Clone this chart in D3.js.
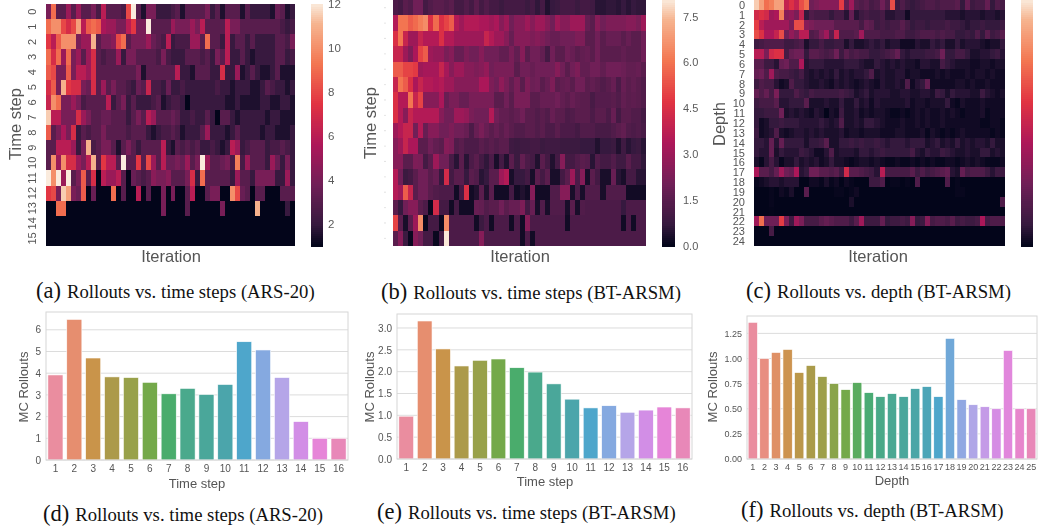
<!DOCTYPE html>
<html>
<head>
<meta charset="utf-8">
<script src="https://cdn.jsdelivr.net/npm/d3@7"></script>
<style>
  body { margin: 0; background: #fff; }
  text { font-family: "Liberation Sans", Arial, sans-serif; fill: #555; }
  .caption text, text.caption { font-family: "Liberation Serif", "Times New Roman", serif; fill: #111; }
  .soft { filter: blur(0.45px); }
  .axis path, .axis line { display: none; }
  rect.cell, rect.bar { shape-rendering: crispEdges; }
</style>
</head>
<body>
<svg id="chart" width="1040" height="529"></svg>
<script>
// seaborn "rocket" stops
var rocketStops = ['#03051a', '#35193e', '#701f57', '#ad1759', '#e13342', '#f37651', '#f6b48f', '#faebdd'];
var rocketPos = [0, 1/12, 3/12, 5/12, 7/12, 9/12, 11/12, 1];
var huslStops = ['#ea8d9f', '#e68e6f', '#c9944a', '#ac9a4a', '#98a14a', '#74a94a', '#4aac6c', '#4aa98c', '#4aa79a',
                 '#4ba5ab', '#4ea6cb', '#85a9e0', '#b5a5e8', '#d28ee6', '#e685d8', '#e888b8'];

// (a) rollouts, time step by iteration
var heatA = [
 [4,9,3,3,5,3,5,3,3,4, 2.5,6,3,3,3,2.5,8,12,3,1.5, 4,4,2,2,2,2.5,3,1.5,3,3, 3,3,4,2,3,1.5,3,3,3,1.5, 3,2,2,2,2,1.5,3.5,3,1.5,2],
 [9,10,10,8,7,8,10.5,6,8.5,9, 8.5,5.5,5,5,4,4,6,7.5,4,4, 12,3,3,3,3,5,4,4,4,5, 4,6,3,3,3,3,6,4,4,3, 3,3,3,3,3,3,3,2.5,2,2.5],
 [7.5,6,8.5,10,10,10,4,5,5,11, 3,4,4,4.5,8,9,3,4,4,4, 5,3.5,3,2.5,6,2,2.5,2.5,2.5,5, 5,3,9,3,3,2,6,2,3,3, 2,3,2,2,2,2,3,3,2.5,4],
 [9,7,9,5,9,4,5,3,5,7, 3,2.5,3,3,5,2,4,4,3,3, 3,3,2.5,4,2.5,2,2,2,3,3, 3,2.5,3,2,4,3,6,2,2,3, 2,1.5,2,2,2,2,3,3,2,2.5],
 [8.5,8,4,4,8.5,4,6,6,5,7, 3,3,3,3,3,3,3,3,4,1.5, 3,3,3,3,3,3,6,2,2,1.5, 3,3,3,2,2,7,2,2,5,1.5, 2,3,2,1.5,1.5,2,3,1.5,1.5,1.5],
 [7,8.5,4,11,7.5,7,7,4,3.5,7, 3,5,3,4,3,3,2.5,2,3.5,3, 6.5,2.5,2.5,2,3.5,2,2,2.5,2,2, 2,2,2,2,2.5,2,2,1.5,2,2, 2,1.5,1.5,2,3,2.5,2,2,1.5,2],
 [6.5,10,9,4,4,5,4,2.5,3,3, 3,3,6,2,3,4,2,3,2,2, 2,2.5,3,1.5,2,2.5,2.5,2,1,2, 2,2,2,2,2,2,1.5,1.5,2,1.5, 1.5,1.5,1.5,2,2,1.5,1.5,2,2,1.5],
 [11.5,6,6,4,4,4,7,5,4,3, 3,3.5,3.5,3,3,3,2,3,4,3, 6,5,3,3,3,3.5,3,2,2,2.5, 2,2,3,2,1,3,3,2,1.5,2, 2,2,2,2,1.5,2,2,1.5,1.5,1.5],
 [8.5,3,4,5.5,4,7,2,3,2.5,3, 3,4,3,3,3,3,2.5,3,3,3, 2,1.5,2,2.5,2.5,3,2.5,1.5,2,2, 2,3,5,2,2,2,1.5,2,3,2, 2,2,2,1.5,2,2,1.5,1.5,1.5,2],
 [3,3,6,6,6,5,2,4,11,2.5, 3,4,4,3,1.5,3,4,3,2,3, 3,3,3,6,2,1.5,3,2.5,3,2.5, 3,2,2,2.5,2,1.5,2,6,5,2, 2.5,3,3,3,2,2.5,2.5,3,2.5,2],
 [3,10,5,10,7,7,5,4,6,11, 3,7.5,6,6,3,12,3,3,7.5,3, 8,5,3,6,3.5,3.5,4,3.5,5,3, 4,12,5,3,3,3.5,4,2.5,9.5,2.5, 5,3,3,3,2,5,3.5,2,4,2],
 [12,10,12,5,12,3,4,8.5,3,7, 1,6,5,5,6,3,1,3.5,3,2.5, 3,4.5,4,4,4.5,3,3,3,4,7, 2,9,3,3,3,3,3,2,5,3, 3,2,4,4,4,4,2,2,5,2],
 [7.5,8,4,11.5,10.5,4,3.5,8.5,1,3.5, 1,1,1,9,1,3,1,1,6,1, 3,1,1,4,1,4,1,1,3,6, 1,1,3,4,4,1,1,10,8,3.5, 3,1,3,3,1,1,1,3,3,3],
 [1,1,9,9,1,1,1,1,1,1, 1,1,1,1,1,1,1,1,1,1, 1,1,1,4,1,1,1,1,3,1, 1,1,1,1,1,4,1,1,1,1, 1,1,11,1,1,1,1,1,2,1],
 [1,1,1,1,1,1,1,1,1,1, 1,1,1,1,1,1,1,1,1,1, 1,1,1,1,1,1,1,1,1,1, 1,1,1,1,1,1,1,1,1,1, 1,1,1,1,1,1,1,1,1,1],
 [1,1,1,1,1,1,1,1,1,1, 1,1,1,1,1,1,1,1,1,1, 1,1,1,1,1,1,1,1,1,1, 1,1,1,1,1,1,1,1,1,1, 1,1,1,1,1,1,1,1,1,1]
];

// (b) rollouts, time step by iteration
var heatB = [
 [1.2,1,1.5,1.3,2,2,1,1.3,1.5,1.5, 1.3,1.5,1,1,1.3,1,1.5,1,1.3,1, 1,0.8,1,1,1,1,0.8,1,0.6,1, 0.4,0.7,0.8,1,1,1,0.8,1,1,0.9, 0.5,0.5,0.6,0.6,0.5,0.7,0.5,0.7,0.6,0.6],
 [3.5,6,6,5.5,5.8,6.2,6.5,4.5,5.8,4.5, 5,5.5,3.5,3,3.5,3.5,3.5,3.3,3.3,3, 3.3,2.5,3,2,2.5,2.5,3,2.5,3,3, 2.5,2,3,2.5,2.5,3,3,3,1.8,1.5, 2.5,2,2.3,2.3,2.3,2.3,2.5,2.5,2.2,3],
 [4.5,6,4,3,3,4,3.5,3.5,3.5,4.5, 3.5,3.5,3,3,3,3,3,3,4,3.5, 3,3,2.5,1.8,2.5,2.5,2.5,2.3,2.5,2.3, 2,1.8,1.8,2,2,2,2.3,2.3,1.5,1.5, 2,1.5,1.8,1.8,1.8,1.5,1.8,1.5,1.5,2],
 [4,4,3,2.3,3.3,5,5.5,3,2.8,2.8, 2.2,2.5,1.8,1.8,2.3,2,2,2.5,2,2, 2,1.7,1.7,2.2,1.7,2.5,1.5,2,2,1.7, 1,2,1.5,1.5,2,1.8,1.5,1.7,1.8,1.5, 2,1.5,1.5,1.5,1.5,1.7,1.5,1.5,1.5,2],
 [5.5,5.5,5,5,4.8,3,3.2,3.2,3.2,4, 3.2,2.5,3,3,2.5,2.5,2.3,2.5,2.8,2, 2.2,2.2,2.2,2.2,1.5,2,2,1.8,2,2, 2,2,2.5,2,1.5,2,2.3,1.7,1.7,2, 2,1.7,2,2,2,1.9,1.7,1.7,1.8,1.5],
 [4,6,5.5,4.5,3.3,4,3.5,3.5,3.3,3.5, 3,3,2.5,2.5,2.5,2.5,2.5,3.3,3.3,2.3, 2,2.7,2.2,1.7,2.2,1.5,2.3,1.9,2,1.5, 1.8,2.3,1.5,1.7,1.8,1.5,2,2,1.5,1.7, 1.5,1.3,1.5,1.8,1.2,1.8,1.5,1.7,1.5,1.3],
 [4.5,3.5,3.5,6,4,5,2.5,2.5,2.5,3.3, 1.8,2.2,2.2,1.8,1.8,2.2,2.2,2.2,2.2,2.2, 1.5,1.5,2,1.5,2.2,2.2,2.2,1.5,1.5,1.8, 1.8,1.8,2,1.7,1.5,1.8,1.6,1.5,1.5,1.1, 1.4,1.4,1.4,1.5,1.3,1.7,1.5,1.6,1.5,1.3],
 [4.5,3.5,2.5,4,3.5,3.5,3.5,3.5,3.5,2.5, 2,2,3,3,2.8,2.2,2,2,2,3.5, 2,1.7,1.7,1.5,1.7,2,1.5,1.5,1.3,1.5, 1.3,1.8,1.5,1.5,1.2,1.3,1.5,1.5,1.5,1.2, 1.5,1.5,1.2,1.8,1,1.5,1.5,1.3,1.3,1],
 [3,3.5,4,4,2,3.5,1.8,2.5,2.5,2, 2,2.3,2,2,1.8,1.2,1.8,2.2,1.8,1.5, 1.8,1.5,1.8,1.5,1.3,1.3,1.5,1.5,1.3,1.5, 1.2,1.2,1.5,1.2,1.2,1.2,1,1.3,1.3,1.3, 1.1,1.1,1.1,1.3,1.5,1.7,1.3,1.2,1.3,1.1],
 [2.5,3,4,3.3,3.3,1.5,1.5,2,1.7,1.5, 2.5,2.3,1.3,1.5,1.2,1.2,1.2,1.5,1.3,1.5, 1.3,1.5,1.5,0.9,0.8,0.9,0.9,1,1,0.8, 0.9,0.9,0.9,0.8,0.8,0.8,0.8,0.7,0.7,0.7, 0.4,0.7,0.7,0.8,0.4,0.9,0.5,0.7,0.8,0.5],
 [2.5,2.5,1.5,1.5,2.3,2.2,1,1.5,3,2, 2,1.1,0.5,1.5,0.5,1.2,1.5,1,0.6,1.2, 0.3,1,0.4,1.5,0.8,1.7,1.2,1,0.4,1.5, 1,0.4,1,2.5,1,1,1.3,1.5,1.4,0.5, 1.3,1,1,1.3,0.9,0.9,1.5,1,1,0.6],
 [3.5,2,0.8,1,1.5,2,2,1.5,1.8,0.7, 4.3,1,1.5,1.5,0.7,1.5,1.3,0.5,0.7,1.5, 1.5,3,3.5,0.3,0.7,0.7,1,0.3,1.5,1, 1.5,0.3,0.3,1,1.5,3,1.2,2.5,0.3,1.5, 1,0.3,0.3,1.8,0.5,0.3,1,1,0.5,0.5],
 [3.5,3,5.5,4,1.5,2,2,1.5,1.3,1.2, 1.2,1.2,0.2,1,4.5,0.2,0.4,1.5,0.4,1.5, 0.2,0.2,0.2,1,0.2,0.4,0.2,2.5,0.2,0.2, 0.2,1.3,1.3,2.5,2.5,0.3,1.2,0.3,1.3,1.3, 1.3,0.3,1.3,1.3,1.3,1.3,0.2,0.2,0.2,0.2],
 [1.5,0.7,2,2.5,2.5,1.5,1.2,0.1,4.3,1, 1,0.2,1,0.2,0.2,0.2,1.8,1.7,1.3,1.5, 1.5,2,1.5,1.8,1.8,2.3,1,1.8,0.3,1.3, 0.3,1.3,1.3,1.3,0.3,1.5,0.3,1.3,1.2,1.2, 1.2,1.2,1.2,1.2,1.2,0.7,1.2,1.2,1.2,1.2],
 [5,1.5,0.3,1.5,3,6.5,0.1,1,1,0.1, 6.5,1.2,1.2,1.2,1.2,1.2,0.2,0.8,1.2,0.2, 1.2,1.2,1.2,0.2,1.2,0.2,2.5,1.2,1.2,1.2, 1.2,1.2,1.2,1.2,0.2,1.2,1.2,1.2,1.2,1.2, 1.2,1.2,1.2,1.2,1.2,0.2,1.2,0.2,1.2,1.2],
 [1.5,2.5,0.8,0.1,2.5,2,1,1,0.1,1, 8,1.2,1.2,1.2,1.2,1.2,1.2,2.5,1.2,1.2, 1.2,1.2,1.2,1.2,1.2,0.2,1.2,0.2,1.2,1.2, 1.2,1.2,1.2,1.2,1.2,1.2,1.2,1.2,1.2,1.2, 1.2,1.2,1.2,1.2,1.2,1.2,1.2,1.2,1.2,1.2]
];

// (c) rollouts, depth by iteration (colour bar has no labels)
var heatC = [
 [3.4,3.2,2.9,3,3.2,3.2,2.3,2.5,2.3,2.7, 2.9,1.6,1.7,1.8,1.8,1.8,1.8,2.6,1.5,2, 1.4,1.3,1.4,1.2,1.3,1.6,1.3,2.7,1.1,1.3, 1.1,1,1.1,1.2,1.3,1.3,1.2,1.3,1.3,1.3, 1.4,1,1.5,1.1,1.2,1.2,1.5,1,1.3,1.2],
 [2.4,2.5,2.4,2,2.1,3,1.8,1.9,1.7,2.3, 1,1.3,1.2,1.2,1.2,1,1.2,1.2,0.9,1.5, 0.9,1.1,1.2,1.1,1.1,1.2,0.9,0.9,1,1, 0.7,1,1,1,1,1,1,1,0.9,0.9, 0.9,0.8,0.9,0.9,0.9,0.8,0.9,0.9,0.8,0.9],
 [2.6,2.2,2,2,2,2,2,1.7,2.7,2.7, 1.8,1.7,1.6,1.6,1.6,1.6,1.4,1.4,1.4,1.4, 1.4,1.2,1.5,1.4,1.1,1.2,1.1,1.2,1.2,1.4, 1.2,1,1.1,1.1,1,1.1,1.1,1.1,1.2,1.1, 1.1,1,0.9,1,1,1.1,1,1,1,1.1],
 [2.7,2.5,2.1,2.1,2.3,2.7,1.6,1.9,1.7,2.2, 2.2,1.3,1.4,1.7,2,1.4,2.3,1.3,1.3,1.3, 1.4,2,1.3,1.3,1.3,1.2,1.2,1.2,1.3,1.3, 1.1,1.1,1.2,1.3,1.3,1.3,1.2,1.3,1.2,1.2, 1,1,1.1,1,1.3,1,1.4,1.1,1.2,1.4],
 [1.1,1.2,1.3,1.3,1.3,1.3,1.1,1.1,1.2,1.3, 0.8,1,1,1.2,1,1,1.1,1.1,0.8,1, 0.8,0.8,0.9,1,0.9,1,0.8,0.9,0.9,0.7, 0.7,0.7,0.9,0.8,0.8,1,0.9,1,0.8,0.8, 1,0.8,0.9,0.9,0.9,0.8,0.7,0.8,0.8,1],
 [2.2,2.2,1.7,2.4,2.5,2.5,1.2,1.5,1.6,1.6, 1,1.4,1.4,1.3,1.2,1.3,1.6,1.1,1.4,1.2, 1.3,1.2,1.2,1,1,1.1,1.2,1.3,1.5,1, 0.9,1,1,1,1.1,1.1,1.2,1.6,1,1, 1.2,1.2,1,0.8,0.8,0.9,0.9,1,1.1,0.9],
 [1.4,1.4,1.1,1.1,0.9,1.5,1.6,1.3,1.3,2.1, 0.9,1,1,1,0.9,0.9,0.9,0.9,1,1, 1,0.9,0.8,0.8,1,0.9,0.8,0.9,0.8,0.9, 0.8,0.8,0.7,0.9,0.9,0.8,0.8,1.2,1,0.9, 0.8,0.8,0.8,0.7,0.7,0.8,0.8,0.7,0.8,0.8],
 [1.5,1.6,1.3,2,1.3,1.2,1.2,1.1,1,1.2, 0.9,0.8,0.9,0.8,0.9,0.8,1,0.8,0.9,0.8, 0.9,0.9,1,1.3,0.8,0.9,0.8,0.8,0.9,0.9, 0.7,0.8,0.8,0.7,0.7,0.7,0.8,0.7,0.8,0.7, 0.7,0.7,0.8,0.7,0.8,0.8,0.7,0.8,0.7,0.7],
 [1.1,1.3,1.2,1.2,0.9,0.7,0.8,1.3,1,1, 0.9,0.8,0.8,0.9,0.8,0.7,0.9,0.8,0.9,0.8, 0.7,0.8,0.9,0.8,0.7,0.9,0.8,0.8,0.9,0.8, 1.3,0.7,0.9,1,1.5,0.7,0.7,0.7,0.7,0.7, 0.8,0.8,0.7,0.8,0.7,0.7,0.8,0.7,0.7,0.7],
 [1.5,1.3,1.5,1.2,1.7,1,1,1,1.3,1.1, 1,1.2,1.1,1.1,1.1,1.1,1.1,1.2,1.1,1, 0.8,0.9,1,0.8,0.9,0.9,0.9,0.8,0.8,0.9, 0.9,0.8,0.8,0.9,0.9,0.8,1.1,1,0.8,1, 0.9,0.9,0.9,0.8,0.8,1.1,0.9,0.8,0.7,0.8],
 [1.1,1.2,1.2,1.2,1.4,0.9,0.9,1,1,1, 1.4,0.8,0.8,0.8,0.9,0.8,0.8,1,0.8,0.8, 1,0.8,0.9,0.7,0.9,0.8,0.8,0.8,0.8,0.8, 0.9,0.7,0.8,0.8,0.7,0.8,0.8,0.8,1,0.7, 0.6,0.8,0.7,0.7,0.7,0.8,0.7,0.7,0.7,0.7],
 [1,1,1.1,1.1,1.1,1.6,0.8,0.9,0.8,0.9, 0.8,0.7,0.9,0.8,0.5,0.8,0.7,1.1,0.8,0.8, 0.9,0.7,0.8,0.7,0.8,0.8,0.7,0.6,0.6,0.7, 0.6,0.7,0.8,0.7,0.8,0.7,0.7,0.8,0.7,0.8, 0.7,0.6,0.7,0.7,0.7,0.8,0.6,0.7,0.7,0.7],
 [1,0.7,0.8,1,1,1.1,1,1,1,0.9, 0.9,0.9,0.9,1,0.9,0.8,0.9,1.3,0.8,0.8, 0.9,0.8,1,1,0.9,0.8,0.7,0.7,0.7,0.8, 0.7,0.7,0.8,0.7,0.8,0.7,0.7,0.8,0.7,0.7, 0.7,0.7,0.7,0.7,0.7,0.6,0.6,0.7,0.7,0.6],
 [1.1,0.7,0.8,0.9,1.3,0.8,0.7,0.8,0.9,0.9, 0.8,0.9,0.8,0.9,0.8,0.8,0.8,0.9,0.7,0.8, 0.8,0.7,0.8,0.8,0.8,0.7,0.7,0.7,0.8,0.8, 0.7,0.7,0.7,0.8,0.6,0.8,0.7,0.6,0.7,0.6, 0.7,0.8,0.7,0.7,0.7,0.7,0.7,0.6,0.7,0.6],
 [1,1,0.9,1.5,0.9,1.5,1,1,1,1, 0.8,1,1,1.1,1.4,0.8,0.8,1,1,1.1, 1,1.1,1,1,1.1,1,0.9,1,1,1, 0.9,1,1,1,0.8,0.9,1,0.8,0.9,0.8, 1,0.8,0.9,0.8,0.9,0.9,0.8,1,0.8,0.8],
 [1,0.9,0.9,1.5,0.8,1,0.9,0.9,0.9,1.1, 1,0.9,0.7,0.7,0.9,1.3,0.8,0.9,0.9,0.9, 0.8,1,1,0.9,1,1.1,1,1,1,1, 1,1.2,0.9,0.8,1,0.9,0.9,1.1,1,0.9, 0.8,0.8,0.9,0.8,0.8,1,1,0.8,0.9,0.8],
 [0.8,0.6,0.9,1.2,0.9,0.6,0.8,0.8,1,0.8, 0.9,0.8,0.9,0.7,0.8,1,0.8,0.8,0.7,0.6, 0.7,0.8,0.8,0.7,0.8,0.7,0.6,0.6,0.7,0.6, 0.6,0.7,0.6,0.7,0.6,0.7,0.6,0.6,0.7,0.7, 0.6,0.7,0.8,0.7,0.8,0.7,0.6,0.6,0.6,0.7],
 [2.1,1.4,1.4,1.2,1.5,2,1.6,1.5,2.1,0.9, 1,1.6,1.6,1.4,1.4,1.3,1.4,1.1,2.4,1.4, 1.4,1.3,1.2,1.1,0.9,2.2,1.2,1.2,1.2,1.2, 1.2,1.4,1.1,1.3,1.1,1.2,1.3,1.4,1.5,0.9, 0.8,1.5,1.2,1.3,1.3,1.3,1.1,0.9,1.1,1.1],
 [0.6,0.7,0.8,0.9,0.9,0.8,0.9,0.9,0.9,0.5, 0.5,0.7,0.7,0.6,0.8,0.6,0.7,0.5,0.7,0.6, 0.5,0.5,0.5,1.1,1.1,1.3,0.5,0.6,0.6,0.5, 0.6,0.5,1.3,0.5,0.5,0.5,0.5,0.5,1.3,0.5, 0.6,0.5,0.5,0.5,0.5,0.5,0.5,0.5,0.5,0.5],
 [0.5,0.5,0.5,0.6,0.5,0.7,0.6,0.8,0.5,0.5, 1.4,0.5,0.5,0.5,0.5,0.5,0.6,0.6,0.5,0.6, 0.7,0.5,0.5,0.5,0.5,0.5,0.5,0.5,0.5,0.5, 0.5,0.5,0.5,0.5,0.5,0.5,0.5,0.5,0.5,0.5, 0.6,0.6,0.5,0.5,0.5,0.5,0.5,0.5,0.5,0.5],
 [0.5,0.5,0.5,0.6,0.5,0.5,0.5,0.5,0.5,0.5, 0.5,0.5,0.5,0.5,0.5,0.5,0.5,0.5,0.5,0.8, 0.5,0.5,0.5,0.5,0.5,0.5,0.5,0.5,0.5,0.5, 0.5,0.5,0.5,0.5,0.5,0.5,0.5,0.5,0.5,0.5, 0.5,0.5,0.5,0.5,0.5,0.5,0.5,0.5,0.5,1.3],
 [0.5,0.5,0.5,0.55,0.5,0.5,0.5,0.5,0.5,0.5, 0.5,0.5,0.5,0.5,0.5,0.5,0.5,0.5,0.5,0.5, 0.5,0.5,0.5,0.5,0.5,0.5,0.5,0.5,0.5,0.5, 0.5,0.5,0.5,0.5,0.5,0.5,0.5,0.5,0.5,0.5, 0.5,0.5,0.5,0.5,0.5,0.5,0.5,0.5,0.5,0.5],
 [2,2.9,1.6,1.6,1.6,2.6,1.7,1.1,2,1.7, 1.2,1.2,1.2,1.4,1.5,1.4,1.3,1.3,1.3,1.1, 1.4,2,1.1,1.1,1.1,1.5,1,1.1,1.1,1.2, 1.1,1.8,1,1.1,1.8,1.2,1.3,1.3,1.2,1.4, 1.1,1.2,1.1,1.1,1.2,2.1,1.2,1.3,1.3,1.3],
 [0.5,0.5,0.5,1.2,0.5,0.5,0.5,0.5,0.5,0.5, 0.5,0.5,0.5,0.5,0.5,0.5,0.5,0.5,0.5,0.5, 0.5,0.5,0.5,0.5,0.5,0.5,0.5,0.5,0.5,0.5, 0.5,0.5,0.5,0.5,0.5,0.5,0.5,0.5,0.5,0.5, 0.5,0.5,0.5,0.5,0.5,0.5,0.5,0.5,0.5,0.5],
 [0.5,0.5,0.5,0.5,0.5,0.5,0.5,0.5,0.5,0.5, 0.5,0.5,0.5,0.5,0.5,0.5,0.5,0.5,0.5,0.5, 0.5,0.5,0.5,0.5,0.5,0.5,0.5,0.5,0.5,0.5, 0.5,0.5,0.5,0.5,0.5,0.5,0.5,0.5,0.5,0.5, 0.5,0.5,0.5,0.5,0.5,0.5,0.5,0.5,0.5,0.5]
];

var timeLabels = ['1','2','3','4','5','6','7','8','9','10','11','12','13','14','15','16'];
var depthLabels = ['1','2','3','4','5','6','7','8','9','10','11','12','13','14','15','16','17','18','19','20','21','22','23','24','25'];
var rolloutsD = [3.92,6.48,4.7,3.83,3.8,3.58,3.05,3.3,3.02,3.48,5.45,5.07,3.8,1.77,1.0,1.0];
var rolloutsE = [0.98,3.16,2.52,2.13,2.26,2.29,2.09,1.99,1.72,1.37,1.17,1.22,1.07,1.12,1.19,1.17];
var rolloutsF = [1.36,1.0,1.06,1.09,0.86,0.93,0.82,0.75,0.69,0.76,0.66,0.62,0.65,0.62,0.7,0.72,0.62,1.2,0.59,0.54,0.52,0.5,1.08,0.5,0.5];

var ticksA = [2,4,6,8,10,12];
var ticksB = [0,1.5,3,4.5,6,7.5];
var ticksD = [0,1,2,3,4,5,6];
var ticksE = [0,0.5,1,1.5,2,2.5,3];
var ticksF = [0,0.25,0.5,0.75,1,1.25];

var captions = [
    ['(a)', 'Rollouts vs. time steps (ARS-20)', 36, 298],
    ['(b)', 'Rollouts vs. time steps (BT-ARSM)', 381, 299],
    ['(c)', 'Rollouts vs. depth (BT-ARSM)', 746, 298],
    ['(d)', 'Rollouts vs. time steps (ARS-20)', 43, 521],
    ['(e)', 'Rollouts vs. time steps (BT-ARSM)', 377, 519],
    ['(f)', 'Rollouts vs. depth (BT-ARSM)', 741, 517]
];

var svg = d3.select('#chart');

function rocket(domain, gamma){
    var t = d3.scaleLinear().domain(domain).range([0,1]).clamp(true);
    var c = d3.scaleLinear().domain(rocketPos).range(rocketStops).interpolate(d3.interpolateRgb);
    return function(v){ return c(Math.pow(t(v), gamma)); };
}

function heatmap(opts){
    var g = svg.append('g').attr('class','soft');
    var rows = opts.rows;
    var x = d3.scaleBand().domain(d3.range(rows[0].length)).range(opts.x);
    var y = d3.scaleBand().domain(d3.range(rows.length)).range(opts.y);
    var color = rocket(opts.domain, opts.gamma || 1);
    var barColor = rocket(opts.domain, 1);

    //cells
    g.selectAll('g.row')
        .data(rows)
        .enter()
        .append('g')
        .attr('class','row')
        .attr('transform', function(d,i){ return 'translate(0,' + y(i) + ')'; })
        .selectAll('rect')
        .data(function(d){ return d; })
        .enter()
        .append('rect')
        .attr('class','cell')
        .attr('x', function(d,i){ return x(i); })
        .attr('width', x.bandwidth())
        .attr('height', y.bandwidth())
        .attr('fill', color);

    //colour bar
    var barY = d3.scaleLinear().domain(opts.domain).range([opts.y[1], opts.y[0]]);
    var steps = d3.range(0, 1, 1/120).map(function(t){ return opts.domain[0] + t*(opts.domain[1]-opts.domain[0]); });
    g.selectAll('rect.bar')
        .data(steps)
        .enter()
        .append('rect')
        .attr('class','bar')
        .attr('x', opts.barX[0])
        .attr('width', opts.barX[1]-opts.barX[0])
        .attr('y', function(d){ return barY(d) - (opts.y[1]-opts.y[0])/120; })
        .attr('height', (opts.y[1]-opts.y[0])/120 + 0.5)
        .attr('fill', barColor);
    if(opts.barTicks){
        var axis = g.append('g')
            .attr('class','axis')
            .attr('transform','translate(' + opts.barX[1] + ',0)')
            .call(d3.axisRight(barY).tickValues(opts.barTicks).tickSize(0).tickPadding(opts.barPad).tickFormat(opts.barFormat));
        axis.selectAll('text').style('font-size', opts.barFont + 'px').style('fill','#5a5a5a');
    }

    //row labels
    if(opts.rowLabels){
        g.selectAll('text.rowlabel')
            .data(opts.rowLabels)
            .enter()
            .append('text')
            .attr('class','rowlabel')
            .attr('text-anchor', opts.rotateLabels ? 'middle' : 'end')
            .attr('dominant-baseline', 'central')
            .attr('transform', function(d,i){
                var py = y(i) + y.bandwidth()/2;
                return 'translate(' + opts.rowX + ',' + py + ')' + (opts.rotateLabels ? ' rotate(-90)' : '');
            })
            .style('font-size', opts.rowFont + 'px')
            .text(function(d){ return d; });
    } else {
        g.selectAll('circle.tickdot')
            .data(d3.range(rows.length))
            .enter()
            .append('circle')
            .attr('class','tickdot')
            .attr('cx', opts.rowX)
            .attr('cy', function(d){ return y(d) + y.bandwidth()/2; })
            .attr('r', 0.6)
            .attr('fill','#ccc');
    }

    g.append('text')
        .attr('text-anchor','middle')
        .attr('transform','translate(' + opts.yLabelX + ',' + opts.yLabelY + ') rotate(-90)')
        .style('font-size', opts.labelFont + 'px')
        .text(opts.yLabel);
    g.append('text')
        .attr('text-anchor','middle')
        .attr('x', opts.xLabelX)
        .attr('y', 262)
        .style('font-size', opts.labelFont + 'px')
        .text('Iteration');
}

function barChart(opts){
    var g = svg.append('g').attr('class','soft');
    var x = d3.scaleBand().domain(opts.labels).range(opts.x).paddingInner(0.2).paddingOuter(0.1);
    var y = d3.scaleLinear().domain(opts.domain).range(opts.y);
    var color = d3.scaleLinear()
        .domain(huslStops.map(function(d,i){ return i/(huslStops.length-1); }))
        .range(huslStops);

    //grid
    g.selectAll('line.grid')
        .data(opts.ticks)
        .enter()
        .append('line')
        .attr('class','grid')
        .attr('x1', opts.x[0]).attr('x2', opts.x[1])
        .attr('y1', function(d){ return y(d); })
        .attr('y2', function(d){ return y(d); })
        .attr('stroke','#dcdcdc')
        .attr('stroke-width',1);

    //bars
    g.selectAll('rect.mc')
        .data(opts.values)
        .enter()
        .append('rect')
        .attr('class','mc')
        .attr('x', function(d,i){ return x(opts.labels[i]); })
        .attr('width', x.bandwidth())
        .attr('y', function(d){ return y(d); })
        .attr('height', function(d){ return y(0)-y(d); })
        .attr('fill', function(d,i){ return color(i/(opts.values.length-1)); })
        .attr('stroke','#fff')
        .attr('stroke-width',0.6);

    //frame
    g.append('rect')
        .attr('x', opts.x[0])
        .attr('y', opts.y[1])
        .attr('width', opts.x[1]-opts.x[0])
        .attr('height', opts.y[0]-opts.y[1])
        .attr('fill','none')
        .attr('stroke','#d6d6d6')
        .attr('stroke-width',1);

    var xAxis = g.append('g')
        .attr('class','axis')
        .attr('transform','translate(0,' + opts.y[0] + ')')
        .call(d3.axisBottom(x).tickSize(0).tickPadding(opts.xPad));
    xAxis.selectAll('text').style('font-size', opts.tickFont + 'px');
    var yAxis = g.append('g')
        .attr('class','axis')
        .attr('transform','translate(' + opts.x[0] + ',0)')
        .call(d3.axisLeft(y).tickValues(opts.ticks).tickSize(0).tickPadding(5).tickFormat(opts.format));
    yAxis.selectAll('text').style('font-size', opts.tickFont + 'px');

    g.append('text')
        .attr('text-anchor','middle')
        .attr('x', opts.xLabelX)
        .attr('y', opts.xLabelY)
        .style('font-size','13px')
        .text(opts.xLabel);
    g.append('text')
        .attr('text-anchor','middle')
        .attr('transform','translate(' + opts.yLabelX + ',387) rotate(-90)')
        .style('font-size','13px')
        .text('MC Rollouts');
}

heatmap({rows:heatA, x:[46,295], y:[4,246], domain:[1,12], barX:[311,323], barTicks:ticksA, barPad:5, barFont:11.5,
    barFormat:d3.format('d'), rowLabels:d3.range(16).map(String), rotateLabels:true, rowX:32, rowFont:11,
    yLabel:'Time step', yLabelX:21, yLabelY:124, xLabelX:171, labelFont:16.5});
heatmap({rows:heatB, x:[393,646], y:[0,246], domain:[0,8.04], barX:[662,675], barTicks:ticksB, barPad:8, barFont:11,
    barFormat:d3.format('.1f'), rowX:385, yLabel:'Time step', yLabelX:376, yLabelY:123, xLabelX:520, labelFont:16.5});
heatmap({rows:heatC, x:[754,1005], y:[0,246], domain:[0.5,3.5], gamma:1.4, barX:[1021,1033], rowLabels:d3.range(25).map(String),
    rotateLabels:false, rowX:745, rowFont:11, yLabel:'Depth', yLabelX:725, yLabelY:124, xLabelX:878, labelFont:16.5});

barChart({values:rolloutsD, labels:timeLabels, ticks:ticksD, x:[46,348], y:[460,312], domain:[0,6.82], format:d3.format('d'),
    tickFont:10, xPad:5, xLabel:'Time step', xLabelX:197, xLabelY:488, yLabelX:28});
barChart({values:rolloutsE, labels:timeLabels, ticks:ticksE, x:[397,692], y:[459,314], domain:[0,3.32], format:d3.format('.1f'),
    tickFont:10, xPad:5, xLabel:'Time step', xLabelX:545, xLabelY:486, yLabelX:374});
barChart({values:rolloutsF, labels:depthLabels, ticks:ticksF, x:[747,1037], y:[459,316], domain:[0,1.423], format:d3.format('.2f'),
    tickFont:9, xPad:5, xLabel:'Depth', xLabelX:892, xLabelY:485, yLabelX:717});

//captions
var cap = svg.append('g').attr('class','caption');
var capText = cap.selectAll('text')
    .data(captions)
    .enter()
    .append('text')
    .attr('x', function(d){ return d[2]; })
    .attr('y', function(d){ return d[3]; });
capText.append('tspan').style('font-size','22.5px').text(function(d){ return d[0]; });
capText.append('tspan').attr('dx',6).style('font-size','18.7px').text(function(d){ return d[1]; });
</script>
</body>
</html>
